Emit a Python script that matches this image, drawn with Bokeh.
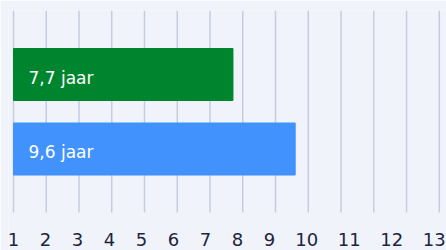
from bokeh.plotting import figure
from bokeh.models import Range1d, ColumnDataSource
from bokeh.core.properties import value
from bokeh.embed import file_html
from bokeh.resources import INLINE

# data
categories = ["groen", "blauw"]
values = [7.7, 9.6]
bar_labels = ["7,7 jaar", "9,6 jaar"]
bar_colors = ["#00852f", "#4192fd"]
axis_min = 1
tick_values = list(range(1, 14))
tick_labels = [str(v) for v in tick_values]
grid_values = list(range(1, 15))

W, H = 446, 250
FRAME_W = 438
x_start, x_end = 0.847, 14.22
px_per_unit = FRAME_W / (x_end - x_start)

# category band: grid spans [cat_lo, cat_hi]; the frame extends below for the tick labels
cat_lo, cat_hi = -0.852, 1.859
y_lo = -1.362

p = figure(width=W, height=H, output_backend="svg", toolbar_location=None,
           x_range=Range1d(x_start, x_end), y_range=Range1d(y_lo, cat_hi),
           min_border_left=8, min_border_right=0, min_border_top=10, min_border_bottom=0,
           x_axis_location=None, y_axis_location=None)
p.background_fill_color = "#f0f3f9"
p.border_fill_color = "#f0f3f9"
p.outline_line_color = None
p.xgrid.visible = False
p.ygrid.visible = False

# vertical grid lines over the category band
p.segment(x0=grid_values, x1=grid_values, y0=[cat_lo] * len(grid_values),
          y1=[cat_hi] * len(grid_values), line_color="#c5cee0", line_width=1.5)

# y positions: first category on top
ys = [len(categories) - 1 - i for i in range(len(categories))]
src = ColumnDataSource(dict(y=ys, right=values, left=[axis_min] * len(values),
                            color=bar_colors, label=bar_labels))

p.hbar(y="y", left="left", right="right", height=0.698, color="color", source=src)
p.text(x="left", y="y", text="label", source=src, x_offset=15, y_offset=3,
       text_baseline="middle", text_align="left", text_color="white",
       text_font=value("DejaVu Sans"), text_font_size="17px")

# tick labels laid out as a row with fixed gap (as in the reference)
digit_w, gap = 10.5, 21.5
label_px = []
pos = 0.0
for i, t in enumerate(tick_labels):
    if i > 0:
        pos += (len(tick_labels[i - 1]) * digit_w + len(t) * digit_w) / 2 + gap
    label_px.append(pos)
x_offsets = [lp - (t - tick_values[0]) * px_per_unit for lp, t in zip(label_px, tick_values)]

tsrc = ColumnDataSource(dict(x=tick_values, y=[cat_lo] * len(tick_values),
                             text=tick_labels, dx=x_offsets))
p.text(x="x", y="y", text="text", x_offset="dx", y_offset=27, source=tsrc,
       text_align="center", text_baseline="alphabetic", text_color="#1c2540",
       text_font=value("DejaVu Sans"), text_font_size="18px")

open("out.html", "w").write(file_html(p, INLINE))
